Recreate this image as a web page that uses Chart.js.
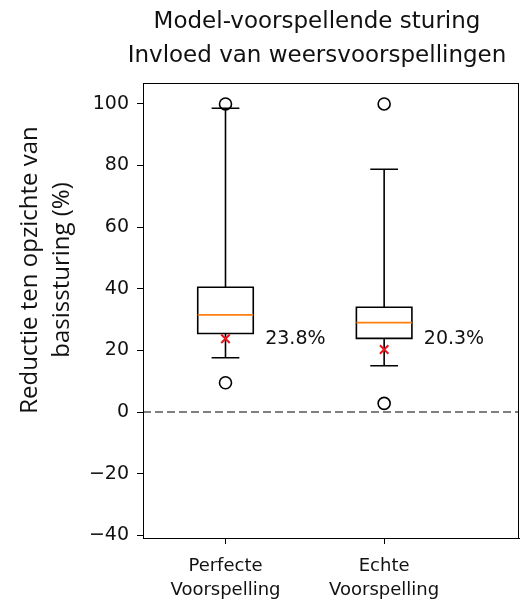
<!DOCTYPE html>
<html>
<head>
<meta charset="utf-8">
<script src="https://cdn.jsdelivr.net/npm/chart.js@4.4.1/dist/chart.umd.min.js"></script>
<style>
  html, body { margin: 0; padding: 0; background: #fff; }
  #wrap { width: 527px; height: 600px; position: relative; }
</style>
</head>
<body>
<div id="wrap"><canvas id="c"></canvas></div>
<script>
// Scenario labels (one box per scenario)
const categories = [['Perfecte', 'Voorspelling'], ['Echte', 'Voorspelling']];
const positions = [1, 2];

// Box statistics per scenario (% reduction versus baseline control)
const whiskerLow  = [17.6, 15.0];
const q1          = [25.5, 23.9];
const median      = [31.5, 29.0];
const q3          = [40.5, 34.0];
const whiskerHigh = [98.6, 78.8];
const means       = [23.8, 20.3];
const outliers    = [[100, 9.5], [100, 2.8]];

// Axis ticks
const yTicks = [-40, -20, 0, 20, 40, 60, 80, 100];

const titleLines = ['Model-voorspellende sturing', 'Invloed van weersvoorspellingen'];
const yTitleLines = ['Reductie ten opzichte van', 'basissturing (%)'];

const BOX_WIDTH = 0.35;
const MEAN_LABEL_Y = 23.7;   // shared height of the mean annotations
const MEAN_LABEL_DX = 0.25;  // offset of the annotation right of each box

const outlierPoints = [];
positions.forEach((p, i) => outliers[i].forEach(v => outlierPoints.push({ x: p, y: v })));
const meanPoints = positions.map((p, i) => ({ x: p, y: means[i] }));

// Boxes, whiskers, medians, zero reference line, frame and texts
const boxPlugin = {
  id: 'boxPlugin',
  beforeDatasetsDraw(chart) {
    const { ctx, chartArea: a, scales: { x, y } } = chart;
    ctx.save();
    // zero reference line
    ctx.strokeStyle = '#808080';
    ctx.lineWidth = 2;
    ctx.setLineDash([8, 4]);
    ctx.beginPath();
    const y0 = y.getPixelForValue(0);
    ctx.moveTo(a.left, y0);
    ctx.lineTo(a.right, y0);
    ctx.stroke();
    ctx.setLineDash([]);

    positions.forEach((p, i) => {
      const xc = x.getPixelForValue(p);
      const xl = x.getPixelForValue(p - BOX_WIDTH / 2);
      const xr = x.getPixelForValue(p + BOX_WIDTH / 2);
      const cl = x.getPixelForValue(p - BOX_WIDTH / 4);
      const cr = x.getPixelForValue(p + BOX_WIDTH / 4);
      const yq1 = y.getPixelForValue(q1[i]);
      const yq3 = y.getPixelForValue(q3[i]);
      const ylo = y.getPixelForValue(whiskerLow[i]);
      const yhi = y.getPixelForValue(whiskerHigh[i]);
      const ymed = y.getPixelForValue(median[i]);

      ctx.strokeStyle = '#000';
      ctx.lineWidth = 1.6;
      ctx.beginPath();
      ctx.rect(xl, yq3, xr - xl, yq1 - yq3);
      // whiskers
      ctx.moveTo(xc, yq3); ctx.lineTo(xc, yhi);
      ctx.moveTo(xc, yq1); ctx.lineTo(xc, ylo);
      // caps
      ctx.moveTo(cl, yhi); ctx.lineTo(cr, yhi);
      ctx.moveTo(cl, ylo); ctx.lineTo(cr, ylo);
      ctx.stroke();

      // median
      ctx.strokeStyle = '#ff7f0e';
      ctx.lineWidth = 1.8;
      ctx.beginPath();
      ctx.moveTo(xl, ymed); ctx.lineTo(xr, ymed);
      ctx.stroke();

      // mean value label
      ctx.fillStyle = '#111';
      ctx.font = '19px "DejaVu Sans"';
      ctx.textAlign = 'left';
      ctx.textBaseline = 'middle';
      ctx.fillText(means[i].toFixed(1) + '%', x.getPixelForValue(p + MEAN_LABEL_DX), y.getPixelForValue(MEAN_LABEL_Y));
    });
    ctx.restore();
  },
  afterDraw(chart) {
    const { ctx, chartArea: a } = chart;
    ctx.save();
    // frame
    ctx.strokeStyle = '#000';
    ctx.lineWidth = 1;
    ctx.strokeRect(a.left + 0.5, a.top + 0.5, a.right - a.left - 1, a.bottom - a.top);

    // title
    ctx.fillStyle = '#111';
    ctx.font = '23px "DejaVu Sans"';
    ctx.textAlign = 'center';
    ctx.textBaseline = 'middle';
    ctx.fillText(titleLines[0], 317, 22);
    ctx.fillText(titleLines[1], 317, 56);

    // y axis title
    ctx.font = '24px "Open Sans"';
    ctx.translate(0, 270);
    ctx.rotate(-Math.PI / 2);
    ctx.fillText(yTitleLines[0], 0, 30);
    ctx.fillText(yTitleLines[1], 0, 62);
    ctx.restore();
  }
};

new Chart(document.getElementById('c'), {
  type: 'scatter',
  data: {
    datasets: [
      {
        label: 'Uitschieters',
        data: outlierPoints,
        pointStyle: 'circle',
        pointRadius: 6,
        pointHoverRadius: 6,
        borderColor: '#000',
        borderWidth: 1.6,
        backgroundColor: 'rgba(0,0,0,0)'
      },
      {
        label: 'Gemiddelde',
        data: meanPoints,
        pointStyle: 'crossRot',
        pointRadius: 6,
        pointHoverRadius: 6,
        borderColor: '#e8141c',
        borderWidth: 2,
        backgroundColor: '#e8141c'
      }
    ]
  },
  options: {
    responsive: true,
    maintainAspectRatio: false,
    animation: false,
    events: [],
    layout: { padding: { top: 83, right: 4, left: 0, bottom: 0 } },
    plugins: {
      legend: { display: false },
      title: { display: false },
      tooltip: { enabled: false }
    },
    scales: {
      x: {
        type: 'linear',
        min: 0.48,
        max: 2.85,
        afterBuildTicks(scale) { scale.ticks = positions.map(v => ({ value: v })); },
        afterFit(scale) { scale.height = 62; },
        grid: { display: true, drawOnChartArea: false, drawTicks: true, tickLength: 6, color: '#000' },
        border: { display: true, color: '#000' },
        ticks: {
          padding: 11,
          color: '#111',
          font: { family: 'DejaVu Sans', size: 18, lineHeight: 1.3 },
          maxRotation: 0,
          callback(value) {
            const i = positions.indexOf(value);
            return i >= 0 ? categories[i] : '';
          }
        }
      },
      y: {
        type: 'linear',
        min: -40.9,
        max: 106.8,
        afterBuildTicks(scale) { scale.ticks = yTicks.map(v => ({ value: v })); },
        afterFit(scale) { scale.width = 143; },
        grid: { display: true, drawOnChartArea: false, drawTicks: true, tickLength: 6, color: '#000' },
        border: { display: true, color: '#000' },
        ticks: {
          padding: 8,
          color: '#111',
          font: { family: 'DejaVu Sans', size: 19 },
          callback(value) { return value < 0 ? '\u2212' + Math.abs(value) : String(value); }
        }
      }
    }
  },
  plugins: [boxPlugin]
});
</script>
</body>
</html>
